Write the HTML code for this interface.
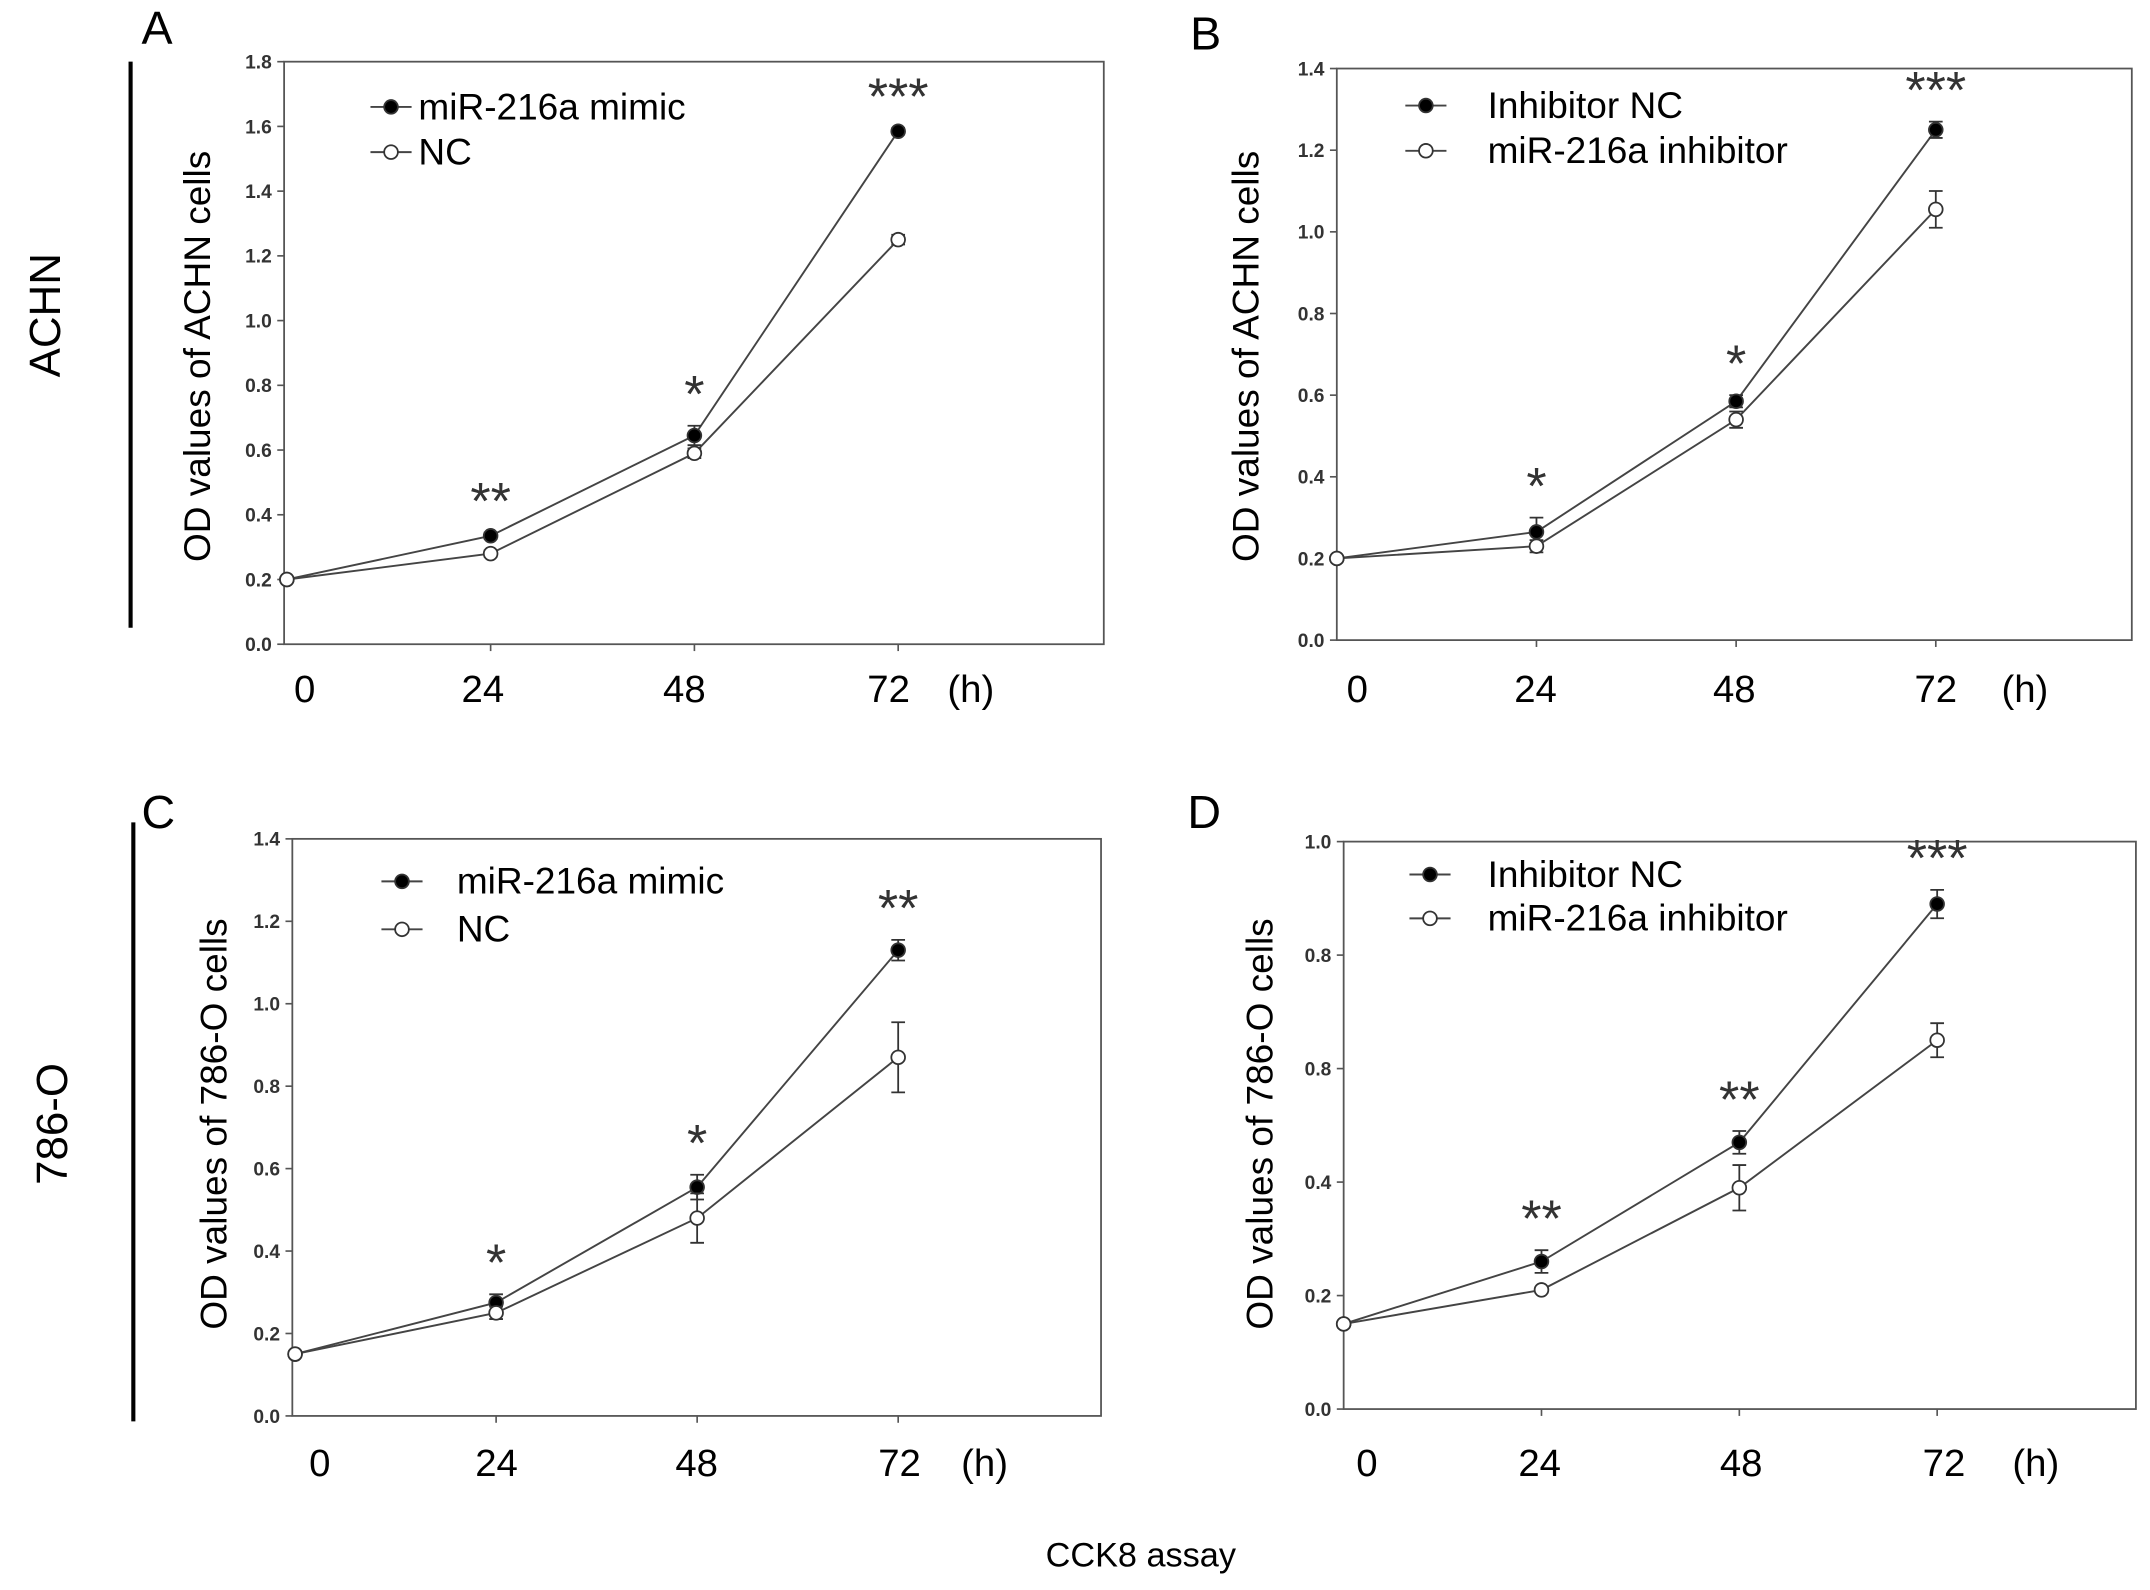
<!DOCTYPE html>
<html><head><meta charset="utf-8"><style>
html,body{margin:0;padding:0;background:#fff;}
svg{display:block;font-family:"Liberation Sans",sans-serif;}
</style></head><body>
<svg id="fig" width="2150" height="1590" viewBox="0 0 1568 1160">
<g>
<line x1="95" y1="45" x2="95" y2="458" stroke="#000" stroke-width="3"/>
<text x="35" y="230" font-size="32" text-anchor="middle" transform="rotate(-90 35 230)" dominant-baseline="middle">ACHN</text>
<line x1="97" y1="600" x2="97" y2="1037" stroke="#000" stroke-width="3"/>
<text x="40" y="820" font-size="32" text-anchor="middle" transform="rotate(-90 40 820)" dominant-baseline="middle">786-O</text>
<text x="832" y="1143" font-size="25" text-anchor="middle">CCK8 assay</text>
</g>
</svg>
<script>
const hours=[0,24,48,72];
// Panel A
const aTicks=["0.0","0.2","0.4","0.6","0.8","1.0","1.2","1.4","1.6","1.8"];
const aFilled=[0.2,0.335,0.645,1.585];
const aFilledErr=[0,0.01,0.03,0.01];
const aOpen=[0.2,0.28,0.59,1.25];
const aOpenErr=[0,0.01,0.015,0.015];
const aSig=["","**","*","***"];
// Panel B
const bTicks=["0.0","0.2","0.4","0.6","0.8","1.0","1.2","1.4"];
const bFilled=[0.2,0.265,0.585,1.25];
const bFilledErr=[0,0.035,0.015,0.02];
const bOpen=[0.2,0.23,0.54,1.055];
const bOpenErr=[0,0.015,0.02,0.045];
const bSig=["","*","*","***"];
// Panel C
const cTicks=["0.0","0.2","0.4","0.6","0.8","1.0","1.2","1.4"];
const cFilled=[0.15,0.275,0.555,1.13];
const cFilledErr=[0,0.02,0.03,0.025];
const cOpen=[0.15,0.25,0.48,0.87];
const cOpenErr=[0,0.015,0.06,0.085];
const cSig=["","*","*","**"];
// Panel D
const dTicks=["0.0","0.2","0.4","0.8","0.8","1.0"];
const dFilled=[0.15,0.26,0.47,0.89];
const dFilledErr=[0,0.02,0.02,0.025];
const dOpen=[0.15,0.21,0.39,0.65];
const dOpenErr=[0,0.005,0.04,0.03];
const dSig=["","**","**","***"];

const NS="http://www.w3.org/2000/svg";
const svg=document.getElementById('fig');
function mk(tag,attrs,parent,text){const e=document.createElementNS(NS,tag);for(const k in attrs)e.setAttribute(k,attrs[k]);if(text!==undefined)e.textContent=text;parent.appendChild(e);return e;}

function panel(p){
  const g=mk('g',{},svg);
  
  
  const ymax=p.ymax;
  const ys=v=>p.bottom-(v/ymax)*(p.bottom-p.top);
  const xs=h=>p.x0+(h/72)*(p.x72-p.x0);
  const frame=mk('rect',{x:p.left,y:p.top,width:p.right-p.left,height:p.bottom-p.top,fill:'none',stroke:'#555','stroke-width':1.3},g);
  
  
  const n=p.ticks.length;
  p.ticks.forEach((t,i)=>{
    const v=ymax*i/(n-1),y=ys(v);
    const l=mk('line',{x1:p.left-5,y1:y,x2:p.left,y2:y,stroke:'#555','stroke-width':1.2},g);
    
    
    const tx=mk('text',{x:p.left-9,y:y+5,'font-size':14,'text-anchor':'end',fill:'#333','font-weight':'bold'},g,t);
    
    
  });
  hours.forEach((h,i)=>{
    if(i>0){const l=mk('line',{x1:xs(h),y1:p.bottom,x2:xs(h),y2:p.bottom+5,stroke:'#555','stroke-width':1.2},g);
    
    }
    const tx=mk('text',{x:p.xl[i],y:p.xly,'font-size':28,'text-anchor':'middle'},g,String(h));
    
    
  });
  const hu=mk('text',{x:p.xl[4],y:p.xly,'font-size':28,'text-anchor':'middle'},g,'(h)');
  
  
  const yl=mk('text',{x:p.ylx,y:p.yly,'font-size':27,'text-anchor':'middle',transform:`rotate(-90 ${p.ylx} ${p.yly})`},g,p.ylabel);
  
  
  const pl=mk('text',{x:p.lx,y:p.ly,'font-size':34},g,p.id.toUpperCase());
  
  
  [[p.filled,p.filledErr,'#000','filled'],[p.open,p.openErr,'#fff','open']].forEach(([vals,errs,fill,nm])=>{
    const pts=vals.map((v,i)=>xs(hours[i])+','+ys(v)).join(' ');
    const line=mk('polyline',{points:pts,fill:'none',stroke:'#444','stroke-width':1.4},g);
    
    
  });
  [[p.filled,p.filledErr,'#000','filled'],[p.open,p.openErr,'#fff','open']].forEach(([vals,errs,fill,nm])=>{
    vals.forEach((v,i)=>{
      const x=xs(hours[i]);
      if(errs[i]>0){
        const y1=ys(v+errs[i]),y2=ys(v-errs[i]);
        const eb=mk('path',{d:`M${x},${y1}V${y2}M${x-5},${y1}H${x+5}M${x-5},${y2}H${x+5}`,stroke:'#333','stroke-width':1.3,fill:'none'},g);
        
        
      }
      const c=mk('circle',{cx:x,cy:ys(v),r:5,fill:fill,stroke:'#333','stroke-width':1.3},g);
      
      
    });
  });
  p.sig.forEach((s,i)=>{
    if(!s)return;
    const top=Math.max(p.filled[i]+p.filledErr[i],p.open[i]+p.openErr[i]);
    const t=mk('text',{x:xs(hours[i]),y:ys(top)-p.sigOff,'font-size':38,'text-anchor':'middle',fill:'#333','letter-spacing':'0'},g,s);
    
    
  });
  [[p.leg[0],'#000',0],[p.leg[1],'#fff',1]].forEach(([label,fill,k])=>{
    const y=p.legy+k*p.legdy;
    const l=mk('line',{x1:p.legx-15,y1:y,x2:p.legx+15,y2:y,stroke:'#444','stroke-width':1.4},g);
    
    
    const c=mk('circle',{cx:p.legx,cy:y,r:5,fill:fill,stroke:'#333','stroke-width':1.3},g);
    
    
    const t=mk('text',{x:p.legtx,y:y+9,'font-size':27},g,label);
    
    
  });
}
panel({id:'a',left:207,right:805,top:45,bottom:470,x0:209,x72:655,ymax:1.8,ticks:aTicks,filled:aFilled,filledErr:aFilledErr,open:aOpen,openErr:aOpenErr,sig:aSig,sigOff:10,xl:[222,352,499,648,708],xly:512,ylabel:'OD values of ACHN cells',ylx:153,yly:260,lx:103,ly:32,leg:['miR-216a mimic','NC'],legx:285,legy:78,legdy:33,legtx:305});
panel({id:'b',left:975,right:1555,top:50,bottom:467,x0:975,x72:1412,ymax:1.4,ticks:bTicks,filled:bFilled,filledErr:bFilledErr,open:bOpen,openErr:bOpenErr,sig:bSig,sigOff:10,xl:[990,1120,1265,1412,1477],xly:512,ylabel:'OD values of ACHN cells',ylx:918,yly:260,lx:868,ly:36,leg:['Inhibitor NC','miR-216a inhibitor'],legx:1040,legy:77,legdy:33,legtx:1085});
panel({id:'c',left:213,right:803,top:612,bottom:1033,x0:215,x72:655,ymax:1.4,ticks:cTicks,filled:cFilled,filledErr:cFilledErr,open:cOpen,openErr:cOpenErr,sig:cSig,sigOff:10,xl:[233,362,508,656,718],xly:1077,ylabel:'OD values of 786-O cells',ylx:165,yly:820,lx:103,ly:604,leg:['miR-216a mimic','NC'],legx:293,legy:643,legdy:35,legtx:333});
panel({id:'d',left:980,right:1558,top:614,bottom:1028,x0:980,x72:1413,ymax:1.0,ticks:dTicks,filled:dFilled,filledErr:dFilledErr,open:dOpen,openErr:dOpenErr,sig:dSig,sigOff:10,xl:[997,1123,1270,1418,1485],xly:1077,ylabel:'OD values of 786-O cells',ylx:928,yly:820,lx:866,ly:604,leg:['Inhibitor NC','miR-216a inhibitor'],legx:1043,legy:638,legdy:32,legtx:1085});
</script>
</body></html>
